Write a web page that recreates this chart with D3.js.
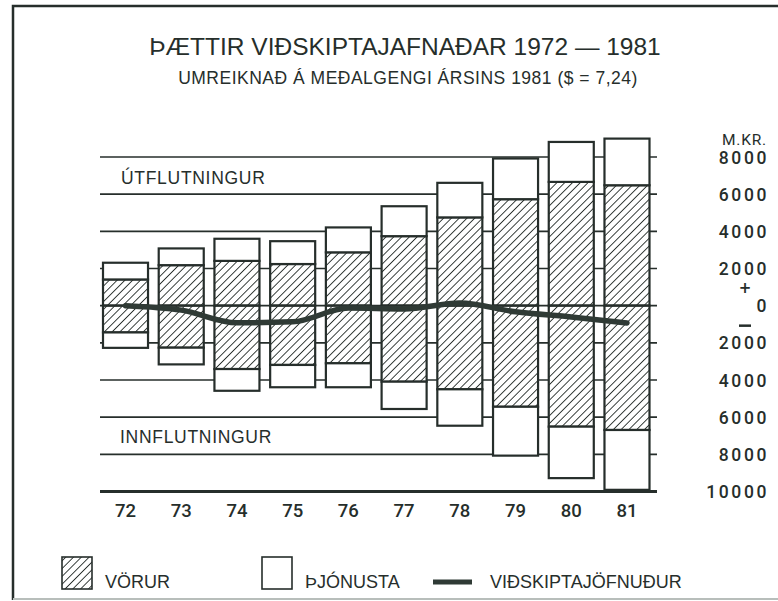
<!DOCTYPE html>
<html>
<head>
<meta charset="utf-8">
<script src="https://cdn.jsdelivr.net/npm/d3@7"></script>
<style>
  body { margin: 0; background: #fff; }
  text { fill: #262e2b; }
</style>
</head>
<body>
<div id="plot"></div>
<script>
// values, millions of kr.
const years = ["72", "73", "74", "75", "76", "77", "78", "79", "80", "81"];
const exportGoods    = [1410, 2180, 2410, 2240, 2870, 3740, 4750, 5730, 6660, 6480];
const exportServices = [ 900,  900, 1190, 1230, 1340, 1610, 1860, 2190, 2150, 2510];
const importGoods    = [1440, 2260, 3410, 3190, 3100, 4090, 4500, 5440, 6510, 6690];
const importServices = [ 830,  900, 1170, 1200, 1290, 1470, 1960, 2630, 2770, 3220];
const balance        = [   0, -240, -920, -870, -130, -180,  140, -330, -610, -930];
const tickValues = [8000, 6000, 4000, 2000, 0, -2000, -4000, -6000, -8000, -10000];

const width = 778, height = 601;
const ink = "#262e2b";

const svg = d3.select("#plot")
  .append("svg")
    .attr("width", width)
    .attr("height", height);

// hatch for goods, white under the strokes so grid lines stay hidden
const defs = svg.append("defs");
const hatch = defs.append("pattern")
    .attr("id", "hatch")
    .attr("patternUnits", "userSpaceOnUse")
    .attr("width", 5.5)
    .attr("height", 5.5)
    .attr("patternTransform", "rotate(45)");
hatch.append("rect")
    .attr("width", 5.5).attr("height", 5.5)
    .attr("fill", "#fff");
hatch.append("line")
    .attr("x1", 0).attr("y1", 0)
    .attr("x2", 0).attr("y2", 5.5)
    .attr("stroke", ink)
    .attr("stroke-width", 1.8);

// frame
svg.append("path")
  .attr("d", "M13,600 L13,6 L778,6")
  .attr("fill", "none")
  .attr("stroke", ink)
  .attr("stroke-width", 2.5);
svg.append("line")
  .attr("x1", 13).attr("x2", 778)
  .attr("y1", 599).attr("y2", 599)
  .attr("stroke", "#b8bebb")
  .attr("stroke-width", 2);

const x = d3.scaleBand()
  .domain(years)
  .range([103, 649.5])
  .paddingInner(0.192)
  .paddingOuter(0);

const y = d3.scaleLinear()
  .domain([-10000, 8000])
  .range([491.5, 157]);

// titles
svg.append("text")
  .attr("x", 405).attr("y", 55)
  .attr("text-anchor", "middle")
  .style("font-family", "'Liberation Sans', Arial, sans-serif")
  .style("font-size", "24.5px")
  .text("ÞÆTTIR VIÐSKIPTAJAFNAÐAR 1972 — 1981");

svg.append("text")
  .attr("x", 408).attr("y", 84)
  .attr("text-anchor", "middle")
  .style("font-family", "'Liberation Sans', Arial, sans-serif")
  .style("font-size", "17.5px")
  .style("letter-spacing", "0.5px")
  .text("UMREIKNAÐ Á MEÐALGENGI ÁRSINS 1981 ($ = 7,24)");

// grid lines behind the bars
svg.selectAll(".grid")
  .data(tickValues.filter(function(d) { return d !== 0 && d !== -10000; }))
  .enter().append("line")
    .attr("class", "grid")
    .attr("x1", 100).attr("x2", 657)
    .attr("y1", function(d) { return y(d); })
    .attr("y2", function(d) { return y(d); })
    .attr("stroke", ink)
    .attr("stroke-width", 1.7);

// stacked pieces: goods next to zero, services outside
const pieces = [];
years.forEach(function(yr, i) {
  pieces.push({ yr: yr, a: 0, b: exportGoods[i], kind: "goods" });
  pieces.push({ yr: yr, a: exportGoods[i], b: exportGoods[i] + exportServices[i], kind: "services" });
  pieces.push({ yr: yr, a: 0, b: -importGoods[i], kind: "goods" });
  pieces.push({ yr: yr, a: -importGoods[i], b: -importGoods[i] - importServices[i], kind: "services" });
});

svg.selectAll(".piece")
  .data(pieces)
  .enter().append("rect")
    .attr("class", "piece")
    .attr("x", function(d) { return x(d.yr); })
    .attr("width", x.bandwidth())
    .attr("y", function(d) { return Math.min(y(d.a), y(d.b)); })
    .attr("height", function(d) { return Math.abs(y(d.a) - y(d.b)); })
    .attr("fill", function(d) { return d.kind === "goods" ? "url(#hatch)" : "#fff"; })
    .attr("stroke", ink)
    .attr("stroke-width", 2.2);

// zero line over the bars
svg.append("line")
  .attr("x1", 100).attr("x2", 657)
  .attr("y1", y(0)).attr("y2", y(0))
  .attr("stroke", ink)
  .attr("stroke-width", 1.7);

// bottom axis line
svg.append("line")
  .attr("x1", 100).attr("x2", 657)
  .attr("y1", y(-10000)).attr("y2", y(-10000))
  .attr("stroke", ink)
  .attr("stroke-width", 2.8);

// balance line
const line = d3.line()
  .x(function(d, i) { return x(years[i]) + x.bandwidth() / 2; })
  .y(function(d) { return y(d); })
  .curve(d3.curveMonotoneX);

svg.append("path")
  .datum(balance)
  .attr("d", line)
  .attr("fill", "none")
  .attr("stroke", "#2f3a35")
  .attr("stroke-width", 5.5)
  .attr("stroke-linecap", "round");

// area labels
svg.append("text")
  .attr("x", 121).attr("y", 184)
  .style("font-family", "'Liberation Sans', Arial, sans-serif")
  .style("font-size", "17.5px")
  .style("letter-spacing", "0.7px")
  .text("ÚTFLUTNINGUR");

svg.append("text")
  .attr("x", 120).attr("y", 443)
  .style("font-family", "'Liberation Sans', Arial, sans-serif")
  .style("font-size", "17.5px")
  .style("letter-spacing", "0.7px")
  .text("INNFLUTNINGUR");

// year labels
svg.selectAll(".year")
  .data(years)
  .enter().append("text")
    .attr("class", "year")
    .attr("x", function(d) { return x(d) + x.bandwidth() / 2; })
    .attr("y", 517)
    .attr("text-anchor", "middle")
    .style("font-family", "Roboto, 'DejaVu Sans', sans-serif")
    .style("font-size", "18.5px")
    .style("font-weight", "500")
    .text(function(d) { return d; });

// right hand value labels
svg.selectAll(".tick-label")
  .data(tickValues)
  .enter().append("text")
    .attr("class", "tick-label")
    .attr("x", 769)
    .attr("y", function(d) { return y(d) + 6.5; })
    .attr("text-anchor", "end")
    .style("font-family", "Roboto, 'DejaVu Sans', sans-serif")
    .style("font-size", "17.5px")
    .style("font-weight", "500")
    .style("letter-spacing", "2.6px")
    .text(function(d) { return Math.abs(d); });

svg.append("text")
  .attr("x", 767).attr("y", 145)
  .attr("text-anchor", "end")
  .style("font-family", "Roboto, 'DejaVu Sans', sans-serif")
  .style("font-size", "15.5px")
  .style("letter-spacing", "0.8px")
  .text("M.KR.");

// sign marks around zero
svg.append("text")
  .attr("x", 745).attr("y", y(0) - 13)
  .attr("text-anchor", "middle")
  .style("font-family", "'DejaVu Sans', sans-serif")
  .style("font-size", "15px")
  .style("font-weight", "bold")
  .text("+");
svg.append("line")
  .attr("x1", 739).attr("x2", 751)
  .attr("y1", y(0) + 20).attr("y2", y(0) + 20)
  .attr("stroke", ink)
  .attr("stroke-width", 2.5);

// legend
const legend = svg.append("g").attr("class", "legend");
legend.append("rect")
  .attr("x", 62).attr("y", 557).attr("width", 30).attr("height", 32)
  .attr("fill", "url(#hatch)").attr("stroke", ink).attr("stroke-width", 1.6);
legend.append("rect")
  .attr("x", 262).attr("y", 557).attr("width", 30).attr("height", 32)
  .attr("fill", "#fff").attr("stroke", ink).attr("stroke-width", 1.6);
legend.append("line")
  .attr("x1", 433).attr("x2", 472).attr("y1", 582).attr("y2", 582)
  .attr("stroke", "#2f3a35").attr("stroke-width", 5);

const legendText = [
  { x: 105, label: "VÖRUR" },
  { x: 305, label: "ÞJÓNUSTA" },
  { x: 490, label: "VIÐSKIPTAJÖFNUÐUR" }
];
legend.selectAll("text")
  .data(legendText)
  .enter().append("text")
    .attr("x", function(d) { return d.x; })
    .attr("y", 588)
    .style("font-family", "'Liberation Sans', Arial, sans-serif")
    .style("font-size", "18px")
    .text(function(d) { return d.label; });
</script>
</body>
</html>
